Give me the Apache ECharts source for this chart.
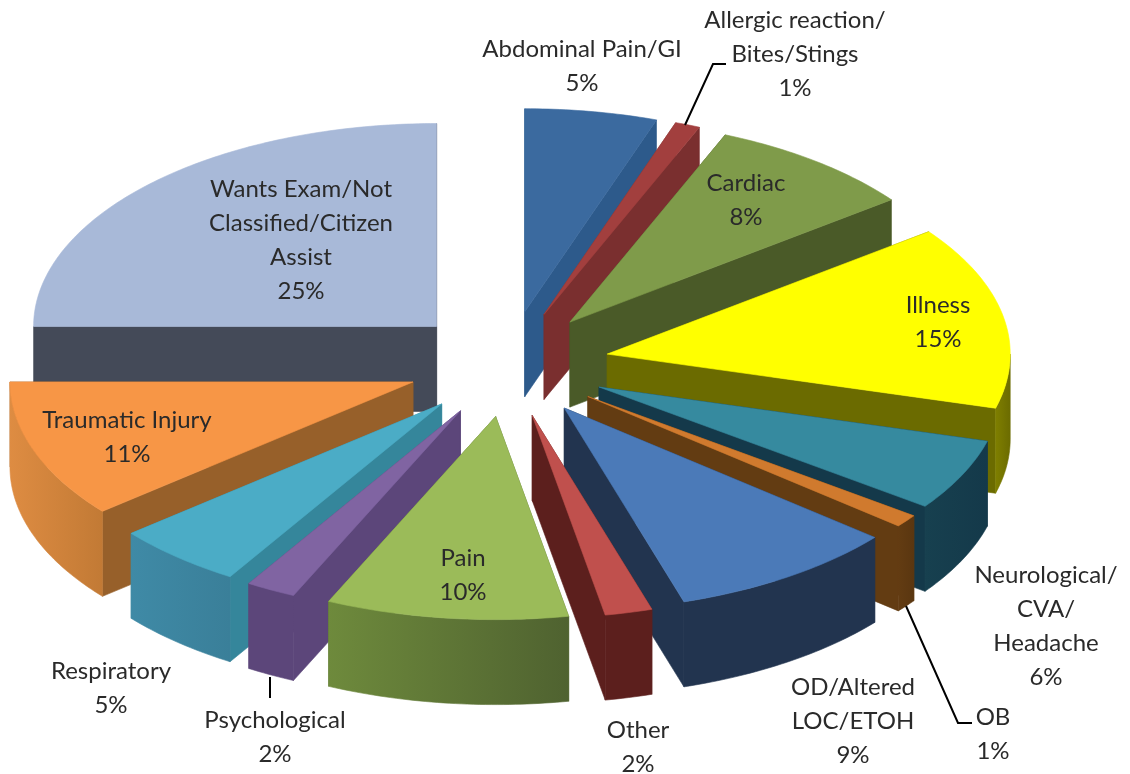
<!DOCTYPE html>
<html>
<head>
<meta charset="utf-8">
<style>html,body{margin:0;padding:0;background:#fff}#chart{width:1130px;height:774px}</style>
<script src="https://cdn.jsdelivr.net/npm/echarts@6/dist/echarts.min.js"></script>
</head>
<body>
<div id="chart"></div>
<script>
// ---- data ----
const categories = ['Abdominal Pain/GI','Allergic reaction/\nBites/Stings','Cardiac','Illness','Neurological/\nCVA/\nHeadache','OB','OD/Altered\nLOC/ETOH','Other','Pain','Psychological','Respiratory','Traumatic Injury','Wants Exam/Not\nClassified/Citizen\nAssist'];
// shares; labels show them rounded
const values = [5.3,1,8.4,14.6,5.7,1,9.2,1.9,9.7,2,5.2,11,25];

// ---- styling, kept apart from the data ----
const topColors  = ['#3b6a9f','#a23f3e','#7f9b4a','#ffff00','#368a9f','#d07a2e','#4b7ab8','#c0504d','#9bbb59','#8064a2','#4bacc6','#f79646','#a8b9d8'];
const wallColors = ['#2d5a8b','#7a2f2f','#4a5a28','#6b6b00','#14394a','#633c12','#22344f','#5c1f1d','#56702f','#5c467a','#35869b','#97602a','#444a58'];
const rimColors  = [['#2d5a8b','#2d5a8b'],['#7a2f2f','#7a2f2f'],['#4a5a28','#4a5a28'],['#7f7f00','#6b6b00'],['#17404f','#14394a'],['#633c12','#5a3610'],['#22344f','#22344f'],['#5c1f1d','#5c1f1d'],['#6e8a3c','#4f6230'],['#5c467a','#5c467a'],['#3f8aa6','#3a7f99'],['#de8c42','#c27a35'],['#444a58','#444a58']];
const labelAnchors = [[582,66],[795,54],[746,200],[938,322],[1046,626],[993,734],[853,721],[638,747],[463,575],[275,737],[111,688],[127,437],[301,240]];
const leaders = [[[685,125],[713,64],[726,64]],[[906,606],[958,723],[972,723]],[[270,677],[270,698]]];

const SCENE = {cx:508, cy:364, ex:101, ey:53, rx:403, ry:203, depth:85};
const total = values.reduce((a,b)=>a+b,0);
const slices = [];
let acc = 0;
values.forEach((v,i)=>{
  const a0 = acc/total*2*Math.PI; acc += v;
  const a1 = acc/total*2*Math.PI;
  const mid = (a0+a1)/2;
  slices.push({i,a0,a1,
    ax:SCENE.cx+SCENE.ex*Math.sin(mid),
    ay:SCENE.cy-SCENE.ey*Math.cos(mid)});
});
const order = slices.slice().sort((p,q)=>p.ay-q.ay).map(s=>s.i);

function rim(s,a){return [s.ax+SCENE.rx*Math.sin(a), s.ay-SCENE.ry*Math.cos(a)];}
function arc(s,a,b){
  const n=Math.max(2,Math.ceil(Math.abs(b-a)/0.015)),pts=[];
  for(let k=0;k<=n;k++)pts.push(rim(s,a+(b-a)*k/n));
  return pts;
}
const down=p=>[p[0],p[1]+SCENE.depth];

function renderSlice(params,api){
  const s=slices[api.value(0)];
  const kids=[];
  const poly=(pts,fill)=>kids.push({type:'polygon',shape:{points:pts},style:{fill:fill,stroke:fill,lineWidth:0.6}});
  const A=[s.ax,s.ay];
  // radial walls, farther one first
  const ends=[s.a0,s.a1].map(a=>({p:rim(s,a)})).sort((u,v)=>u.p[1]-v.p[1]);
  ends.forEach(e=>poly([A,e.p,down(e.p),down(A)],wallColors[s.i]));
  // outer curved wall: only the front-facing part
  const b0=Math.max(s.a0,Math.PI/2),b1=Math.min(s.a1,Math.PI*1.5);
  if(b1>b0){
    const top=arc(s,b0,b1);
    const g=rimColors[s.i];
    poly(top.concat(top.map(down).reverse()),
      new echarts.graphic.LinearGradient(0,0,1,0,[{offset:0,color:g[0]},{offset:1,color:g[1]}]));
  }
  // top face
  poly([A].concat(arc(s,s.a0,s.a1)),topColors[s.i]);
  return {type:'group',children:kids};
}
function renderLabel(params,api){
  const i=api.value(0);
  return {type:'text',style:{text:categories[i]+'\n'+Math.round(values[i])+'%',x:labelAnchors[i][0],y:labelAnchors[i][1],
    align:'center',verticalAlign:'middle',fontFamily:'Lato',fontSize:24,lineHeight:34,fill:'#2a2a2a'}};
}
function renderLeader(params,api){
  return {type:'polyline',shape:{points:leaders[api.value(0)]},style:{stroke:'#000',lineWidth:2,fill:null}};
}
const chart=echarts.init(document.getElementById('chart'),null,{renderer:'canvas'});
chart.setOption({
  animation:false,
  backgroundColor:'#fff',
  series:[
    {type:'custom',coordinateSystem:'none',renderItem:renderSlice,data:order.map(i=>[i]),z:1,silent:true},
    {type:'custom',coordinateSystem:'none',renderItem:renderLeader,data:leaders.map((_,i)=>[i]),z:2,silent:true},
    {type:'custom',coordinateSystem:'none',renderItem:renderLabel,data:categories.map((_,i)=>[i]),z:3,silent:true}
  ]
});
</script>
</body>
</html>
